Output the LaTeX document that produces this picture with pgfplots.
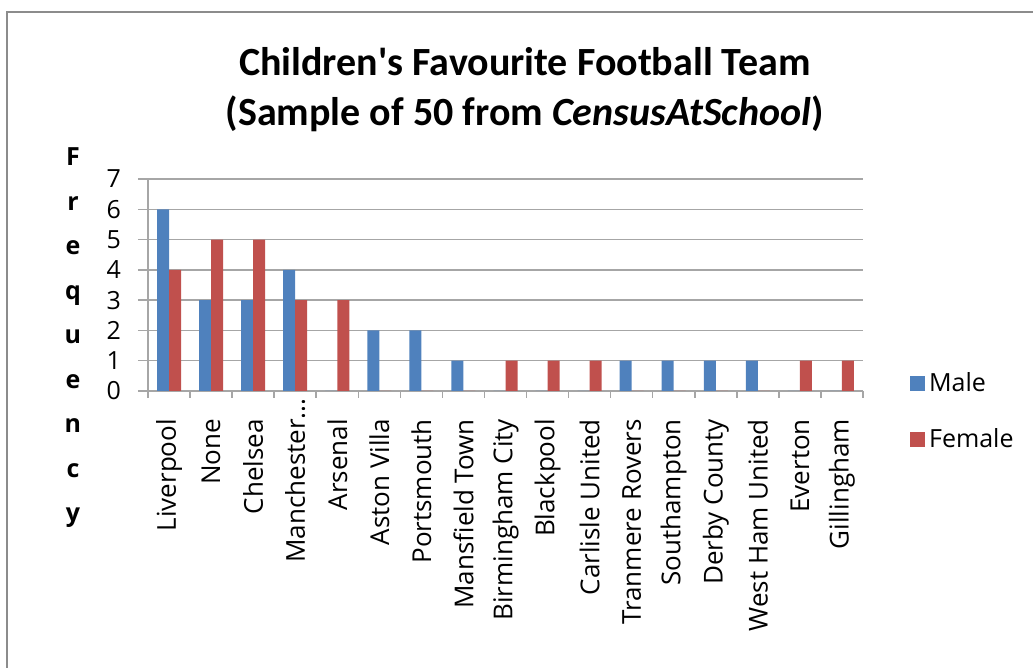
\documentclass[border=0pt]{standalone}
\usepackage{fontspec}
\setmainfont{Open Sans}
\newfontfamily\titlefont{Carlito}
\usepackage{pgfplots}
\pgfplotsset{compat=1.18}
\definecolor{male}{HTML}{4F81BD}
\definecolor{female}{HTML}{C0504D}
\definecolor{gridgray}{HTML}{A6A6A6}
\definecolor{framegray}{HTML}{8C8C8C}

\begin{document}
\begin{tikzpicture}
% canvas: 1 px of the reference = 0.5pt
\path[use as bounding box] (0,0) rectangle (516.5pt,334pt);
\draw[framegray, line width=1pt] (3.5pt,-2pt) -- (3.5pt,328pt) -- (520pt,328pt);

\begin{axis}[
    at={(74pt,138.5pt)}, anchor=south west,
    scale only axis,
    width=357.5pt, height=106pt,
    ybar, bar width=6pt,
    xmin=-0.5, xmax=16.5,
    ymin=0, ymax=7,
    ytick={0,...,7},
    xtick={0,...,16},
    xticklabels={Liverpool, None, Chelsea, Manchester\rlap{...}, Arsenal,
      Aston Villa, Portsmouth, Mansfield Town, Birmingham City, Blackpool,
      Carlisle United, Tranmere Rovers, Southampton, Derby County,
      West Ham United, Everton, Gillingham},
    minor xtick={-0.5,0.5,...,16.5},
    major x tick style={draw=none},
    axis lines*=left,
    tick align=outside,
    major tick length=5pt,
    minor tick length=3.5pt,
    axis line style={gridgray, line width=0.75pt},
    tick style={gridgray, line width=0.75pt},
    ymajorgrids,
    grid style={gridgray, line width=0.75pt},
    /pgf/number format/assume math mode=true,
    yticklabel style={font=\fontsize{12.5}{15}\selectfont, xshift=-5pt},
    xticklabel style={font=\fontsize{13}{15}\selectfont, rotate=90, anchor=east, xshift=-5.5pt},
    title={Children\textquotesingle s Favourite Football Team\\(Sample of 50 from \textit{CensusAtSchool})},
    title style={font=\titlefont\bfseries\fontsize{20}{25}\selectfont, align=center,
      at={(0.527,1)}, anchor=south, inner sep=0pt, yshift=17.5pt},
    ylabel={\begin{tabular}{@{}c@{}}F\\r\\e\\q\\u\\e\\n\\c\\y\end{tabular}},
    ylabel style={font=\bfseries\fontsize{12.5}{22.25}\selectfont, rotate=-90,
      at={(axis description cs:-0.105,0.264)}, anchor=center, inner sep=0pt},
    legend style={draw=none, fill=none, at={(1.057,0.127)}, anchor=north west,
      font=\fontsize{12.5}{15}\selectfont, row sep=13pt},
    legend cell align=left,
    legend image code/.code={\fill[#1] (-1.5pt,-3.75pt) rectangle (6pt,3.75pt);},
  ]

  \addplot[fill=male, draw=none, bar shift=-3pt] coordinates {
      (0,6) (1,3) (2,3) (3,4) (4,0) (5,2) (6,2) (7,1) (8,0)
      (9,0) (10,0) (11,1) (12,1) (13,1) (14,1) (15,0) (16,0)
    };
  \addlegendentry{Male}

  \addplot[fill=female, draw=none, bar shift=3pt] coordinates {
      (0,4) (1,5) (2,5) (3,3) (4,3) (5,0) (6,0) (7,0) (8,1)
      (9,1) (10,1) (11,0) (12,0) (13,0) (14,0) (15,1) (16,1)
    };
  \addlegendentry{Female}

\end{axis}
\end{tikzpicture}
\end{document}
